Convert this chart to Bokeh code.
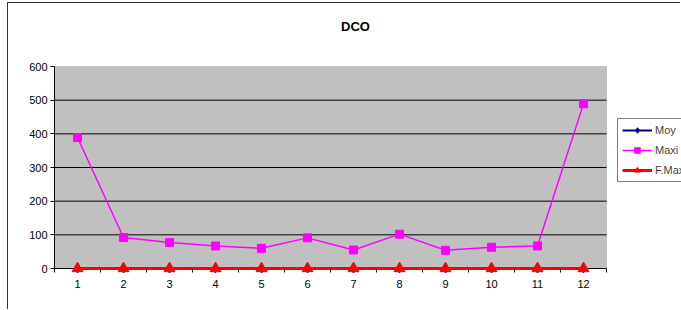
from bokeh.plotting import figure
from bokeh.models import FixedTicker, Legend, LegendItem, Range1d, BoxAnnotation, Label
from bokeh.embed import file_html
from bokeh.resources import INLINE

months = [1, 2, 3, 4, 5, 6, 7, 8, 9, 10, 11, 12]
moy = [0, 0, 0, 0, 0, 0, 0, 0, 0, 0, 0, 0]
maxi = [389, 92, 77, 67, 60, 91, 55, 102, 54, 63, 67, 489]
fmax = [0, 0, 0, 0, 0, 0, 0, 0, 0, 0, 0, 0]
y_ticks = [0, 100, 200, 300, 400, 500, 600]
title_text = "DCO"

PX_PER_UNIT = 202 / 600
Y_MAX = 600
Y_LO = -8 / PX_PER_UNIT          # room below the zero line so markers are not cut
Y_HI = Y_MAX + 63 / PX_PER_UNIT  # room above for the title
X_LO, X_HI = 0.5, 12.5           # category area
X_END = X_LO + 627 / 46          # frame extends right to hold the legend

p = figure(width=673, height=307, output_backend="svg", toolbar_location=None,
           x_range=Range1d(X_LO, X_END), y_range=Range1d(Y_LO, Y_HI),
           min_border_left=46, min_border_right=0, min_border_top=0, min_border_bottom=34)
p.styles = {"margin-left": "7px", "margin-top": "2px",
            "border-left": "1px solid #333333", "border-top": "1px solid #333333"}
p.background_fill_color = "white"
p.border_fill_color = "white"
p.outline_line_color = None

plot_area = BoxAnnotation(left=X_LO, right=X_HI, bottom=0, top=Y_MAX,
                          fill_color="#C0C0C0", fill_alpha=1,
                          line_color="#808080", line_width=1, level="image")
p.add_layout(plot_area)

title = Label(x=301, y=250, x_units="screen", y_units="screen", text=title_text,
              text_align="center", text_baseline="middle",
              text_font="Liberation Sans", text_font_size="13px", text_font_style="bold",
              text_color="black")
p.add_layout(title)

p.xgrid.visible = False
p.ygrid.visible = False
grid_vals = y_ticks[1:-1]
p.segment(x0=[X_LO] * len(grid_vals), x1=[X_HI] * len(grid_vals), y0=grid_vals, y1=grid_vals,
          line_color="black", line_width=1)
p.segment(x0=[X_LO], x1=[X_HI], y0=[0], y1=[0], line_color="black", line_width=1)

p.yaxis.ticker = FixedTicker(ticks=y_ticks)
p.yaxis.bounds = (0, Y_MAX)
p.xaxis.ticker = FixedTicker(ticks=months, minor_ticks=[m - 0.5 for m in months] + [12.5])
for ax in (p.xaxis, p.yaxis):
    ax.major_label_text_font = "Liberation Sans"
    ax.major_label_text_font_size = "11px"
    ax.major_label_text_color = "black"
p.yaxis.axis_line_color = "black"
p.yaxis.major_tick_out = 4
p.yaxis.major_tick_in = 0
p.yaxis.minor_tick_line_color = None
p.yaxis.major_tick_line_color = "black"
p.yaxis.major_label_standoff = 3

p.xaxis.axis_line_color = None
p.xaxis.major_tick_out = 0
p.xaxis.major_tick_in = 0
p.xaxis.minor_tick_in = 8
p.xaxis.minor_tick_out = -4
p.xaxis.minor_tick_line_color = "black"
p.xaxis.major_label_standoff = 3

r_moy_l = p.line(months, moy, line_color="#000080", line_width=2)
r_moy_m = p.scatter(months, moy, marker="diamond", size=9, color="#000080")
r_max_l = p.line(months, maxi, line_color="#FF00FF", line_width=1.5)
r_max_m = p.scatter(months, maxi, marker="square", size=8, color="#FF00FF")
r_f_l = p.line(months, fmax, line_color="#FF0000", line_width=3)
r_f_m = p.scatter(months, fmax, marker="triangle", size=11, color="#FF0000")

legend = Legend(items=[
    LegendItem(label="Moy", renderers=[r_moy_l, r_moy_m]),
    LegendItem(label="Maxi", renderers=[r_max_l, r_max_m]),
    LegendItem(label="F.Max", renderers=[r_f_l, r_f_m]),
], location=(563, 94))
legend.label_text_font = "Liberation Sans"
legend.label_text_font_size = "11px"
legend.glyph_width = 30
legend.glyph_height = 14
legend.spacing = 6
legend.padding = 4
legend.margin = 0
legend.label_standoff = 3
legend.border_line_color = "black"
legend.border_line_width = 1
legend.background_fill_color = "white"
legend.background_fill_alpha = 1
p.add_layout(legend, "center")

open("out.html", "w").write(file_html(p, INLINE))
